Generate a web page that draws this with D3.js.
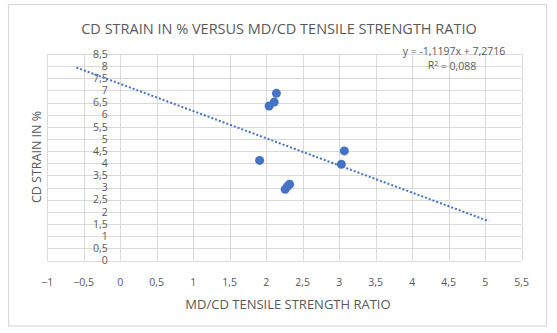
<!DOCTYPE html>
<html>
<head>
<meta charset="utf-8">
<script src="https://cdn.jsdelivr.net/npm/d3@7"></script>
<style>
  body { margin: 0; background: #fff; }
  svg text { font-family: "Open Sans", "Noto Sans", sans-serif; fill: #595959; }
</style>
</head>
<body>
<svg id="chart" width="557" height="333"></svg>
<script>
// MD/CD tensile strength ratio (x) vs CD strain in % (y)
const ratio  = [2.14, 2.11, 2.04, 1.91, 3.07, 3.03, 2.32, 2.26, 2.29];
const strain = [6.88, 6.52, 6.36, 4.12, 4.51, 3.96, 3.14, 2.93, 3.05];

// linear trendline as reported on the chart, drawn with forecast range
const trendSlope = -1.1197;
const trendIntercept = 7.2716;
const trendRange = [-0.6, 5.05];

const xTicks = d3.range(-1, 5.51, 0.5);
const yTicks = d3.range(0, 8.51, 0.5);

const fmt = v => d3.format("~g")(+v.toFixed(2)).replace(".", ",");

const svg = d3.select("#chart");

// chart border
svg.append("rect")
    .attr("x", 8.5).attr("y", 4.5)
    .attr("width", 538).attr("height", 321.5)
    .attr("fill", "#fff")
    .attr("stroke", "#d9d9d9")
    .attr("stroke-width", 1.2);

const x = d3.scaleLinear().domain([-1, 5.5]).range([47.2, 521.7]);
const y = d3.scaleLinear().domain([0, 8.5]).range([260.5, 54]);

// gridlines
const grid = svg.append("g").attr("stroke", "#d9d9d9").attr("stroke-width", 1);
grid.selectAll("line.v")
    .data(xTicks)
    .join("line")
    .attr("class", "v")
    .attr("x1", d => Math.round(x(d)) + 0.5).attr("x2", d => Math.round(x(d)) + 0.5)
    .attr("y1", y(8.5)).attr("y2", y(0));
grid.selectAll("line.h")
    .data(yTicks)
    .join("line")
    .attr("class", "h")
    .attr("x1", x(-1)).attr("x2", x(5.5))
    .attr("y1", d => Math.round(y(d)) + 0.5).attr("y2", d => Math.round(y(d)) + 0.5);

// tick labels (y axis crosses at x = 0)
svg.append("g").selectAll("text")
    .data(yTicks)
    .join("text")
    .attr("x", x(0) - 12.5)
    .attr("y", d => y(d))
    .attr("dy", "0.35em")
    .attr("text-anchor", "end")
    .attr("font-size", 10.5)
    .text(fmt);

svg.append("g").selectAll("text")
    .data(xTicks)
    .join("text")
    .attr("x", d => x(d))
    .attr("y", 282)
    .attr("dy", "0.35em")
    .attr("text-anchor", "middle")
    .attr("font-size", 10.5)
    .text(fmt);

// trendline
svg.append("line")
    .attr("x1", x(trendRange[0])).attr("y1", y(trendSlope * trendRange[0] + trendIntercept))
    .attr("x2", x(trendRange[1])).attr("y2", y(trendSlope * trendRange[1] + trendIntercept))
    .attr("stroke", "#4472C4")
    .attr("stroke-width", 2)
    .attr("stroke-dasharray", "2,2");

// points
svg.append("g").selectAll("circle")
    .data(ratio.map((r, i) => [r, strain[i]]))
    .join("circle")
    .attr("cx", d => x(d[0]))
    .attr("cy", d => y(d[1]))
    .attr("r", 4.5)
    .attr("fill", "#4472C4");

// titles
svg.append("text")
    .attr("x", 279).attr("y", 29)
    .attr("dy", "0.35em")
    .attr("text-anchor", "middle")
    .attr("font-size", 14.5)
    .text("CD STRAIN IN % VERSUS MD/CD TENSILE STRENGTH RATIO");

svg.append("text")
    .attr("transform", "translate(37,157) rotate(-90)")
    .attr("dy", "0.35em")
    .attr("text-anchor", "middle")
    .attr("font-size", 12.5)
    .text("CD STRAIN IN %");

svg.append("text")
    .attr("x", 288).attr("y", 304.5)
    .attr("dy", "0.35em")
    .attr("text-anchor", "middle")
    .attr("font-size", 13)
    .text("MD/CD TENSILE STRENGTH RATIO");

// trendline equation
const eq = svg.append("g").attr("font-size", 10.5).attr("text-anchor", "middle");
eq.append("text").attr("x", 454).attr("y", 51).attr("dy", "0.35em")
    .text("y = -1,1197x + 7,2716");
const r2 = eq.append("text").attr("x", 452).attr("y", 65).attr("dy", "0.35em");
r2.append("tspan").text("R");
r2.append("tspan").attr("font-size", 7).attr("dy", "-0.4em").text("2");
r2.append("tspan").attr("dy", "0.4em").text(" = 0,088");
</script>
</body>
</html>
